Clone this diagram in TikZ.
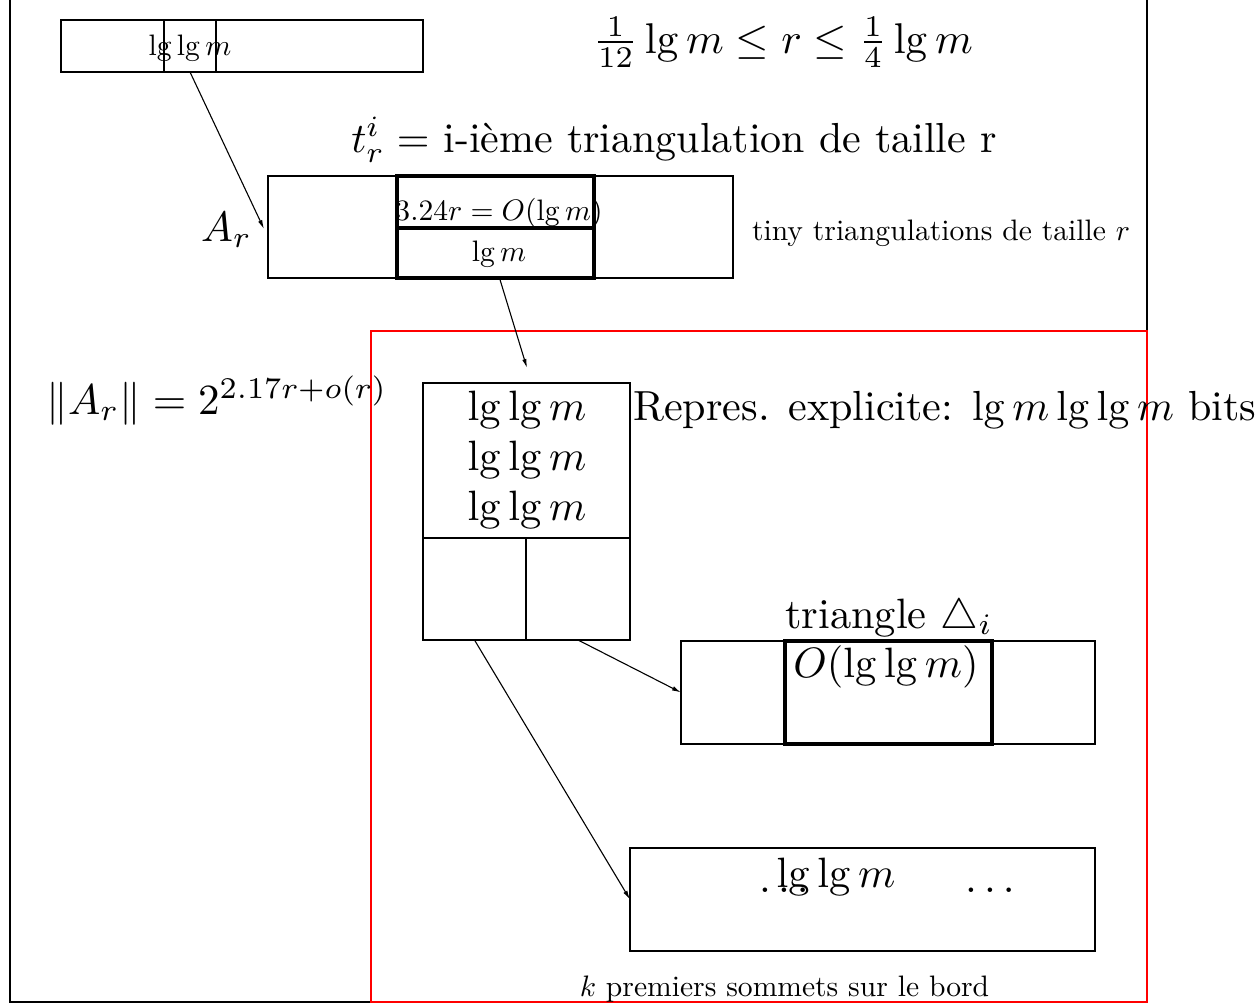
\RequirePackage{fix-cm}
\documentclass[tikz,border=0pt]{standalone}
\usepackage{graphicx}
\usetikzlibrary{arrows.meta}
\newcommand\bigtxt[2][4.245]{\scalebox{#1}{\fontsize{10}{12}\selectfont #2}}
\newcommand\smtxt[1]{\scalebox{2.96}{\fontsize{10}{12}\selectfont #1}}
\tikzset{
  box/.style={draw, line width=1.3pt, inner sep=0pt, outer sep=0pt},
  thickbox/.style={draw, line width=4.8pt, inner sep=0pt, outer sep=0pt},
  txt/.style={inner sep=0pt, anchor=base},
  arr/.style={-{Latex[length=9pt,width=4.5pt]}, line width=1.1pt},
}
\begin{document}
\begin{tikzpicture}[x=1pt,y=-1pt]
\useasboundingbox (0,0) rectangle (1256,1004);
% frames
\draw[line width=1.3pt] (10,-10) rectangle (1147,1002);
\draw[red, line width=1.3pt] (371,331) rectangle (1147,1002);

% top-left box
\node[box, minimum width=362pt, minimum height=52pt] (tl) at (242,46) {};
\node[txt] (tltext) at (190,55) {\smtxt{$\lg\lg m$}};
\node[box, minimum width=52pt, minimum height=52pt] (tlc) at (190,46) {};

% A_r box
\node[box, minimum width=465pt, minimum height=102pt] (ar) at (500.5,227) {};
\node[txt] (artop) at (499,220) {\smtxt{$3.24r=O(\lg m)$}};
\node[txt] (arbot) at (499,261) {\smtxt{$\lg m$}};
\node[thickbox, minimum width=197pt, minimum height=52pt] (thtop) at (495.5,202) {};
\node[thickbox, minimum width=197pt, minimum height=50pt] (thbot) at (495.5,253) {};
\node[txt] (arlabel) at (226.5,241) {\bigtxt{$A_r$}};
\node[txt] (tiny) at (941,240) {\smtxt{tiny triangulations de taille $r$}};

% headings
\node[txt] (ineq) at (783,53) {\bigtxt[4.3]{$\frac{1}{12}\lg m \le r \le \frac{1}{4}\lg m$}};
\node[txt] (tri) at (674,152) {\bigtxt[4.2]{$t_r^i=$ i-ième triangulation de taille r}};
\node[txt] (norm) at (217,414) {\bigtxt[4.3]{$\|A_r\| = 2^{2.17r+o(r)}$}};
\node[txt, anchor=base west] (repres) at (633,420) {\bigtxt[4.21]{Repres. explicite: $\lg m\lg\lg m$ bits}};

% middle box
\node[box, minimum width=207pt, minimum height=155pt] (midtop) at (526.5,460.5) {};
\node[box, minimum width=103pt, minimum height=102pt] (cellL) at (474.5,589) {};
\node[box, minimum width=104pt, minimum height=102pt] (cellR) at (578,589) {};
\node[txt] (l1) at (527,420) {\bigtxt{$\lg\lg m$}};
\node[txt] (l2) at (527,470) {\bigtxt{$\lg\lg m$}};
\node[txt] (l3) at (527,520) {\bigtxt{$\lg\lg m$}};

% triangle box
\node[box, minimum width=414pt, minimum height=103pt] (trib) at (888,692.5) {};
\node[thickbox, minimum width=207pt, minimum height=103pt] (trith) at (888.5,692.5) {};
\node[txt] (trilabel) at (889,628) {\bigtxt{triangle $\triangle_i$}};
\node[txt] (olg) at (886,677) {\bigtxt{$O(\lg\lg m)$}};

% bottom box
\node[box, minimum width=465pt, minimum height=103pt] (bot) at (862.5,899.5) {};
\node[txt] (dotsL) at (784,892) {\bigtxt{$\ldots$}};
\node[txt] (botlg) at (836,887) {\bigtxt{$\lg\lg m$}};
\node[txt] (dotsR) at (990,892) {\bigtxt{$\ldots$}};
\node[txt] (kprem) at (784.5,996) {\smtxt{$k$ premiers sommets sur le bord}};

% connectors
\coordinate (midin) at (527,368);
\draw[arr] (tlc.south) -- ([xshift=-4pt,yshift=-2pt]ar.west);
\draw[arr] ([xshift=4pt]thbot.south) -- (midin);
\draw[arr] (cellL.south) -- (bot.west);
\draw[arr] (cellR.south) -- (trib.west);
\end{tikzpicture}
\end{document}
